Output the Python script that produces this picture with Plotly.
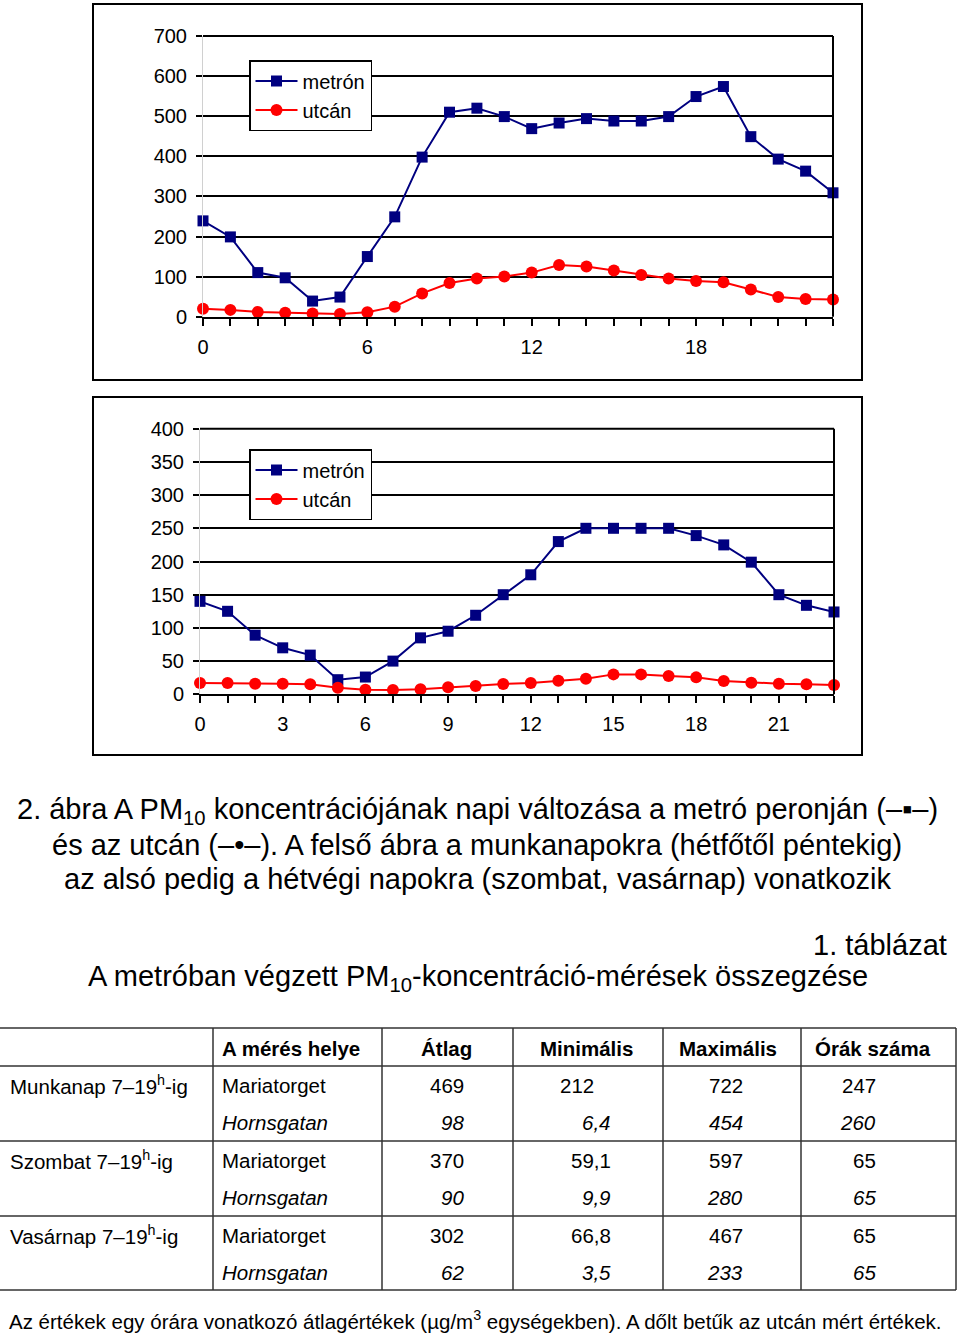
import plotly.graph_objects as go

# ---------------- data ----------------
hours = list(range(24))
series_names = ["metrón", "utcán"]

weekday_metro = [239, 199, 110, 97, 39, 49, 150, 249, 398, 510, 520, 499,
                 469, 483, 494, 488, 488, 499, 549, 574, 449, 393, 363, 309]
weekday_street = [20, 17, 12, 10, 8, 7, 11, 25, 58, 84, 95, 100,
                  110, 129, 125, 115, 104, 95, 89, 86, 68, 49, 44, 43]

weekend_metro = [140, 125, 89, 70, 59, 22, 26, 50, 85, 95, 119, 150,
                 180, 230, 250, 250, 250, 250, 239, 225, 199, 150, 134, 124]
weekend_street = [17, 17, 16, 16, 15, 10, 7, 6.5, 7.5, 10.5, 12.5, 15.5,
                  17, 20.5, 23.5, 30, 30, 27.5, 25.5, 20, 17.5, 16, 15, 14]

top_labelled_hours = [0, 6, 12, 18]
bottom_labelled_hours = [0, 3, 6, 9, 12, 15, 18, 21]
top_yticks = [0, 100, 200, 300, 400, 500, 600, 700]
bottom_yticks = [0, 50, 100, 150, 200, 250, 300, 350, 400]

caption_lines = [
    "2. ábra A PM<sub>10</sub> koncentrációjának napi változása a metró peronján (–▪–)",
    "és az utcán (–•–). A felső ábra a munkanapokra (hétfőtől péntekig)",
    "az alsó pedig a hétvégi napokra (szombat, vasárnap) vonatkozik",
]
table_number = "1. táblázat"
table_title = "A metróban végzett PM<sub>10</sub>-koncentráció-mérések összegzése"

table_headers = ["A mérés helye", "Átlag", "Minimális", "Maximális", "Órák száma"]
table_groups = ["Munkanap 7–19<sup>h</sup>-ig", "Szombat 7–19<sup>h</sup>-ig", "Vasárnap 7–19<sup>h</sup>-ig"]
table_sites = ["Mariatorget", "Hornsgatan"]
col_atlag = ["469", "98", "370", "90", "302", "62"]
col_minimalis = ["212", "6,4", "59,1", "9,9", "66,8", "3,5"]
col_maximalis = ["722", "454", "597", "280", "467", "233"]
col_orak = ["247", "260", "65", "65", "65", "65"]
footnote = ("Az értékek egy órára vonatkozó átlagértékek (µg/m<sup>3</sup> egységekben). "
            "A dőlt betűk az utcán mért értékek.")

# ---------------- helpers ----------------
W, H = 960, 1334


def fx(px):
    return px / W


def fy(py):
    return 1 - py / H


FONT = "Liberation Sans, Arial, sans-serif"
NAVY = "#000080"
RED = "#FF0000"

fig = go.Figure()


def add_series(xa, ya, metro, street, legend):
    fig.add_trace(go.Scatter(
        x=hours, y=metro, name=series_names[0], mode="lines+markers",
        line=dict(color=NAVY, width=2), marker=dict(symbol="square", size=11, color=NAVY),
        xaxis=xa, yaxis=ya, legend=legend, cliponaxis=False))
    fig.add_trace(go.Scatter(
        x=hours, y=street, name=series_names[1], mode="lines+markers",
        line=dict(color=RED, width=2), marker=dict(symbol="circle", size=12, color=RED),
        xaxis=xa, yaxis=ya, legend=legend, cliponaxis=False))


add_series("x", "y", weekday_metro, weekday_street, "legend")
add_series("x2", "y2", weekend_metro, weekend_street, "legend2")


def xaxis_cfg(domain, labelled, anchor):
    return dict(
        domain=domain, range=[0, 23], anchor=anchor,
        tickvals=hours, ticktext=[str(h) if h in labelled else "" for h in hours],
        ticks="outside", ticklen=7, tickwidth=2, tickcolor="black",
        showline=True, linecolor="black", linewidth=2, mirror=False,
        showgrid=False, zeroline=False, automargin=False,
        tickfont=dict(family=FONT, size=20, color="black"),
        ticklabelstandoff=4, fixedrange=True,
    )


def yaxis_cfg(domain, ticks, anchor):
    return dict(
        domain=domain, range=[0, ticks[-1]], anchor=anchor,
        tickvals=ticks, ticktext=[str(t) for t in ticks],
        ticks="outside", ticklen=6, tickwidth=2, tickcolor="black",
        showline=True, linecolor="#d0d0d0", linewidth=1,
        showgrid=True, gridcolor="black", gridwidth=2, zeroline=False, automargin=False,
        tickfont=dict(family=FONT, size=20, color="black"),
        ticklabelstandoff=5, fixedrange=True,
    )


shapes = []
annotations = []

# chart frames
for (x0, y0, x1, y1) in [(93, 4, 862, 380), (93, 397, 862, 755)]:
    shapes.append(dict(type="rect", xref="paper", yref="paper",
                       x0=fx(x0), x1=fx(x1), y0=fy(y1), y1=fy(y0),
                       line=dict(color="black", width=2), fillcolor="rgba(0,0,0,0)"))

# plot-area top and right borders
for xr, yr in [("x domain", "y domain"), ("x2 domain", "y2 domain")]:
    shapes.append(dict(type="line", xref=xr, yref=yr, x0=1, x1=1, y0=0, y1=1,
                       line=dict(color="black", width=2)))
    shapes.append(dict(type="line", xref=xr, yref=yr, x0=0, x1=1, y0=1, y1=1,
                       line=dict(color="black", width=2)))

BIG = dict(family=FONT, size=29, color="black")

# caption, one annotation per line (tight line spacing)
for line, yy in zip(caption_lines, [811, 845, 879]):
    annotations.append(dict(xref="paper", yref="paper", x=fx(477), y=fy(yy),
                            xanchor="center", yanchor="middle", showarrow=False,
                            text=line, font=BIG))
annotations.append(dict(xref="paper", yref="paper", x=fx(949), y=fy(945),
                        xanchor="right", yanchor="middle", showarrow=False,
                        text=table_number, font=BIG))
annotations.append(dict(xref="paper", yref="paper", x=fx(478), y=fy(978),
                        xanchor="center", yanchor="middle", showarrow=False,
                        text=table_title, font=BIG))

# table grid
t_top, t_head, t_bot = 1028, 1066, 1290
group_lines = [1141, 1216]
col_lines = [213, 382, 513, 663, 801, 956]
LC = "#333333"
for yy in [t_top, t_head] + group_lines + [t_bot]:
    shapes.append(dict(type="line", xref="paper", yref="paper", x0=fx(0), x1=fx(956),
                       y0=fy(yy), y1=fy(yy), line=dict(color=LC, width=1.5)))
for xx in col_lines:
    shapes.append(dict(type="line", xref="paper", yref="paper", x0=fx(xx), x1=fx(xx),
                       y0=fy(t_bot), y1=fy(t_top), line=dict(color=LC, width=1.5)))

TFONT = dict(family=FONT, size=20.5, color="black")


def tcell(text, x, y, anchor, bold=False, italic=False):
    if italic:
        text = "<i>" + text + "</i>"
    if bold:
        text = "<b>" + text + "</b>"
    annotations.append(dict(xref="paper", yref="paper", x=fx(x), y=fy(y),
                            xanchor=anchor, yanchor="middle", showarrow=False,
                            text=text, font=TFONT))


header_y = 1048
tcell(table_headers[0], 220, header_y, "left", bold=True)
for txt, cx in zip(table_headers[1:], [446, 586, 728, 873]):
    tcell(txt, cx, header_y, "center", bold=True)

row_y = [1085, 1122, 1160, 1197, 1235, 1272]
for gi, g in enumerate(table_groups):
    tcell(g, 8, row_y[2 * gi], "left")
for i, yy in enumerate(row_y):
    it = (i % 2 == 1)
    tcell(table_sites[i % 2], 220, yy, "left", italic=it)
    tcell(col_atlag[i], 466, yy, "right", italic=it)
    mv = col_minimalis[i]
    if "," not in mv:
        mv = mv + "\u2008\u2007"  # decimal alignment on the comma
    tcell(mv, 613, yy, "right", italic=it)
    tcell(col_maximalis[i], 745, yy, "right", italic=it)
    tcell(col_orak[i], 878, yy, "right", italic=it)

annotations.append(dict(xref="paper", yref="paper", x=fx(7), y=fy(1320),
                        xanchor="left", yanchor="middle", showarrow=False,
                        text=footnote, font=dict(family=FONT, size=20.5, color="black")))

legend_common = dict(bgcolor="white", bordercolor="black", borderwidth=1.5,
                     font=dict(family=FONT, size=20, color="black"),
                     xanchor="left", yanchor="top", tracegroupgap=0, itemwidth=42)

fig.update_layout(
    width=W, height=H, margin=dict(l=0, r=0, t=0, b=0, pad=0, autoexpand=False),
    paper_bgcolor="white", plot_bgcolor="white",
    xaxis=xaxis_cfg([fx(203), fx(833)], top_labelled_hours, "y"),
    yaxis=yaxis_cfg([fy(316.7), fy(36)], top_yticks, "x"),
    xaxis2=xaxis_cfg([fx(200), fx(834)], bottom_labelled_hours, "y2"),
    yaxis2=yaxis_cfg([fy(694.3), fy(428.7)], bottom_yticks, "x2"),
    legend=dict(x=fx(249), y=fy(60), **legend_common),
    legend2=dict(x=fx(249), y=fy(449), **legend_common),
    shapes=shapes, annotations=annotations,
    showlegend=True,
)

fig.write_html("out.html", config={"displayModeBar": False},
               post_script="document.body.style.margin='0px';")
